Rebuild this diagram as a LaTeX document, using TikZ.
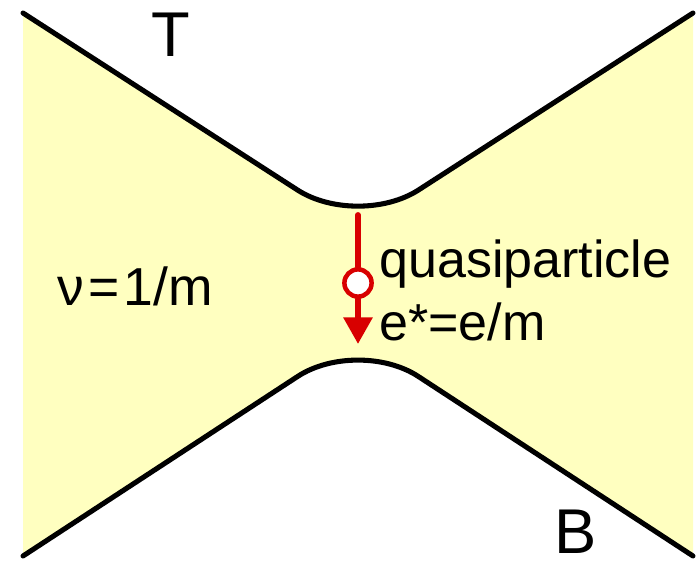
\documentclass[tikz,border=0pt]{standalone}
\usepackage{fontspec}
\setmainfont{Liberation Sans}
\usetikzlibrary{arrows.meta}
\definecolor{qhyellow}{HTML}{FFFFC0}
\definecolor{qhred}{HTML}{D80000}

\begin{document}
\begin{tikzpicture}[
  x=0.025cm, y=-0.025cm,
  line cap=round, line join=round,
  edge/.style={draw=black, line width=3.6pt},
  flow/.style={draw=qhred, line width=4.2pt},
  qpart/.style={circle, draw=qhred, fill=white, line width=3.2pt,
                minimum size=0.68cm, inner sep=0pt},
  txt/.style={font=\fontsize{37}{44}\selectfont, inner sep=0pt, anchor=base west},
  side/.style={font=\fontsize{45}{54}\selectfont, inner sep=0pt, anchor=base},
]
\useasboundingbox (0,0) rectangle (698,567);

% ----- constriction -----
\coordinate (tl) at (23,13);
\coordinate (tr) at (693,13);
\coordinate (nt) at (358,229);
\coordinate (bl) at (23,556);
\coordinate (br) at (693,556);
\coordinate (nb) at (358,337);

\fill[qhyellow] (tl) [rounded corners=1.8cm] -- (nt) [sharp corners] -- (tr) -- (br)
  [rounded corners=1.8cm] -- (nb) [sharp corners] -- (bl) -- cycle;
\draw[edge, rounded corners=1.8cm] (tl) -- (nt) -- (tr);
\draw[edge, rounded corners=1.8cm] (bl) -- (nb) -- (br);

\node[side] (T) at (171,56) {T};
\node[side] (B) at (576,553) {B};

% ----- tunnelling quasiparticle -----
\coordinate (src) at (358,215);
\coordinate (dst) at (358,344);
\node[qpart] (qp) at (358,283) {};
\draw[flow] (src) -- (qp.north);
\draw[flow, -{Triangle[length=19pt, width=20pt]}] (qp.south) -- (dst);

\node[txt] (name) at (379,277) {quasiparticle};
\node[txt] (charge) at (379,340) {e*=e/m};
\node[txt, font=\fontsize{38}{44}\selectfont] (fill) at (57,305) {ν\kern3pt=\kern3pt1/m};
\end{tikzpicture}
\end{document}
